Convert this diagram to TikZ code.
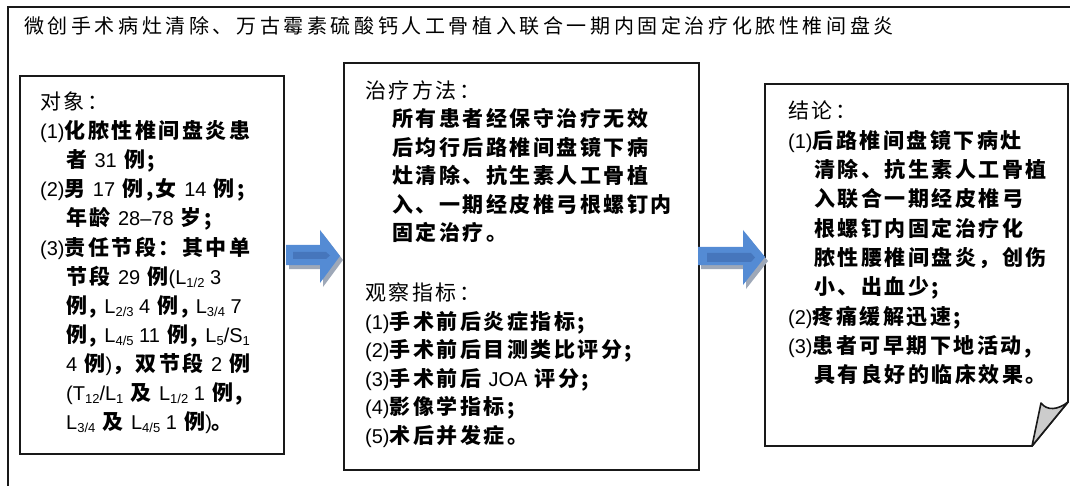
\documentclass[tikz,border=0pt]{standalone}
\usepackage{fontspec}
\setmainfont{Liberation Sans}
\newfontfamily\latin{Liberation Sans}
\newfontfamily\titlecjk{Noto Sans CJK SC}[LetterSpace=18]
\newfontfamily\heicjk{Noto Sans CJK SC}[LetterSpace=12]
\newfontfamily\kaicjk{Noto Sans CJK SC}[LetterSpace=12]
\newcommand\kai{\kaicjk\bfseries\fontsize{21}{21}\selectfont}
\newcommand\hei{\heicjk\mdseries\fontsize{21}{21}\selectfont}
\newcommand\lat[1]{{\latin\mdseries\fontsize{20}{20}\selectfont #1}}
\newcommand\sbs[1]{\raisebox{-3pt}{\latin\mdseries\fontsize{13}{13}\selectfont #1}}
\definecolor{arrowblue}{RGB}{84,139,212}
\definecolor{arrowband}{RGB}{70,118,188}
\definecolor{arrowshadow}{RGB}{158,168,184}
\definecolor{foldgray}{RGB}{204,204,204}
\definecolor{boxline}{RGB}{25,25,25}
\tikzset{
  txt/.style={anchor=base west, inner sep=0pt, font=\kai},
  hdr/.style={anchor=base west, inner sep=0pt, font=\hei},
  boxframe/.style={draw=boxline, line width=1.8pt, fill=white},
  outerframe/.style={draw=boxline, line width=1.3pt},
}
\begin{document}
\begin{tikzpicture}[x=1pt,y=-1pt]
\useasboundingbox (0,0) rectangle (1070,486);
% outer frame
\draw[outerframe] (8,490) -- (8,7) -- (1075,7);
\node[anchor=base west, inner sep=0pt, font=\titlecjk\fontsize{20}{20}\selectfont] (title) at (24,34) {微创手术病灶清除、万古霉素硫酸钙人工骨植入联合一期内固定治疗化脓性椎间盘炎};
% boxes
\node[boxframe, anchor=north west, minimum width=264pt, minimum height=378pt, inner sep=0pt] (b1) at (19,75) {};
\node[boxframe, anchor=north west, minimum width=355pt, minimum height=407pt, inner sep=0pt] (b2) at (343,62) {};
\coordinate (b3nw) at (765,84);
\coordinate (b3ne) at (1068,84);
\coordinate (b3r) at (1068,402);
\coordinate (b3b) at (1032,446);
\coordinate (b3sw) at (765,446);
\coordinate (b3tip) at (1041,403);
\draw[boxframe, line join=miter] (b3nw) -- (b3ne) -- (b3r) -- (b3b) -- (b3sw) -- cycle;
\draw[draw=boxline, line width=1.6pt, fill=foldgray, line join=round] (b3b) -- (b3tip) .. controls (1047,411) and (1058,410) .. (b3r) -- cycle;
% arrow 1
\fill[arrowshadow] (289,249) -- (323,249) -- (323,234) -- (343,260) -- (323,287) -- (323,269) -- (289,269) -- cycle;
\fill[arrowblue] (286,245) -- (320,245) -- (320,230) -- (340,256) -- (320,283) -- (320,265) -- (286,265) -- cycle;
\fill[arrowband] (293,252) -- (326,252) -- (330,255.5) -- (326,259) -- (293,259) -- cycle;
% arrow 2
\fill[arrowshadow] (701,251) -- (746,251) -- (746,234) -- (768,261) -- (746,289) -- (746,269) -- (701,269) -- cycle;
\fill[arrowblue] (698,247) -- (743,247) -- (743,230) -- (765,257) -- (743,285) -- (743,265) -- (698,265) -- cycle;
\fill[arrowband] (707,253) -- (751,253) -- (755,257.5) -- (751,262) -- (707,262) -- cycle;
% box 1 text
\node[hdr] (a0) at (40,110) {对象：};
\node[txt] (a1) at (40,139) {\lat{(1)}化脓性椎间盘炎患};
\node[txt] (a2) at (66,168) {者 \lat{31} 例;};
\node[txt] (a3) at (40,197) {\lat{(2)}男 \lat{17} 例,女 \lat{14} 例;};
\node[txt] (a4) at (66,226) {年龄 \lat{28–78} 岁;};
\node[txt] (a5) at (40,255) {\lat{(3)}责任节段：其中单};
\node[txt] (a6) at (66,284) {节段 \lat{29} 例\lat{(L\sbs{1/2} 3}};
\node[txt] (a7) at (66,313) {例, \lat{L\sbs{2/3} 4} 例, \lat{L\sbs{3/4} 7}};
\node[txt] (a8) at (66,342) {例, \lat{L\sbs{4/5} 11} 例, \lat{L\sbs{5}/S\sbs{1}}};
\node[txt] (a9) at (66,371) {\lat{4} 例\lat{)}，双节段 \lat{2} 例};
\node[txt] (a10) at (66,400) {\lat{(T\sbs{12}/L\sbs{1}} 及 \lat{L\sbs{1/2} 1} 例,};
\node[txt] (a11) at (66,429) {\lat{L\sbs{3/4}} 及 \lat{L\sbs{4/5} 1} 例\lat{)}。};
% box 2 text
\node[hdr] (m0) at (365,99) {治疗方法：};
\node[txt] (m1) at (392,127) {所有患者经保守治疗无效};
\node[txt] (m2) at (392,155.5) {后均行后路椎间盘镜下病};
\node[txt] (m3) at (392,184) {灶清除、抗生素人工骨植};
\node[txt] (m4) at (392,212.5) {入、一期经皮椎弓根螺钉内};
\node[txt] (m5) at (392,241) {固定治疗。};
\node[hdr] (o0) at (365,300) {观察指标：};
\node[txt] (o1) at (365,329) {\lat{(1)}手术前后炎症指标;};
\node[txt] (o2) at (365,357.5) {\lat{(2)}手术前后目测类比评分;};
\node[txt] (o3) at (365,386) {\lat{(3)}手术前后 \lat{JOA} 评分;};
\node[txt] (o4) at (365,414.5) {\lat{(4)}影像学指标;};
\node[txt] (o5) at (365,443) {\lat{(5)}术后并发症。};
% box 3 text
\node[hdr] (c0) at (788,119) {结论：};
\node[txt] (c1) at (788,148.3) {\lat{(1)}后路椎间盘镜下病灶};
\node[txt] (c2) at (814,177.6) {清除、抗生素人工骨植};
\node[txt] (c3) at (814,206.9) {入联合一期经皮椎弓};
\node[txt] (c4) at (814,236.2) {根螺钉内固定治疗化};
\node[txt] (c5) at (814,265.5) {脓性腰椎间盘炎，创伤};
\node[txt] (c6) at (814,294.8) {小、出血少;};
\node[txt] (c7) at (788,324.1) {\lat{(2)}疼痛缓解迅速;};
\node[txt] (c8) at (788,353.4) {\lat{(3)}患者可早期下地活动,};
\node[txt] (c9) at (814,382.7) {具有良好的临床效果。};
\end{tikzpicture}
\end{document}
